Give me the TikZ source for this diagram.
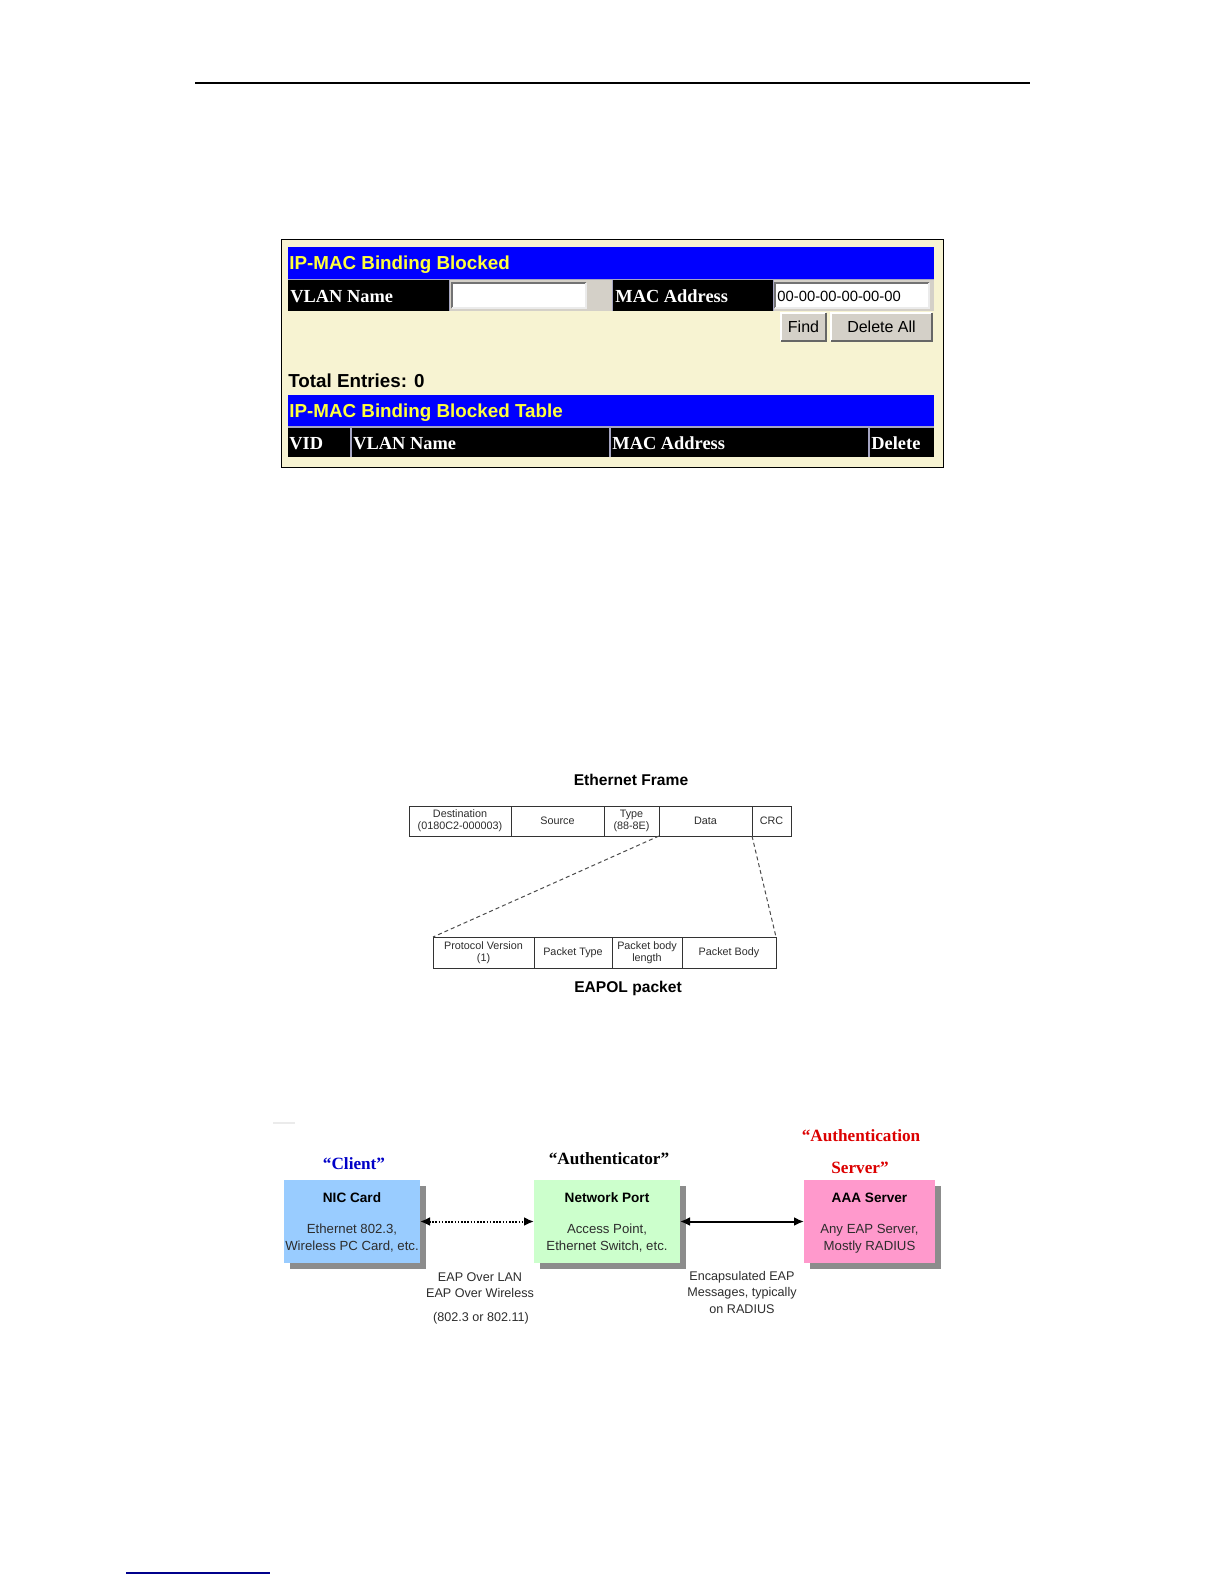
\documentclass[tikz,border=0pt]{standalone}
\usepackage{fontspec}
\setmainfont{Liberation Serif}
\setsansfont{Liberation Sans}
\usetikzlibrary{arrows.meta,shadows}
\definecolor{cream}{RGB}{247,243,210}
\definecolor{hdrblue}{RGB}{0,0,255}
\definecolor{hdryellow}{RGB}{255,255,60}
\definecolor{btngray}{RGB}{212,208,200}
\definecolor{sepgray}{RGB}{165,165,195}
\definecolor{cliblue}{RGB}{153,204,255}
\definecolor{npgreen}{RGB}{204,255,204}
\definecolor{aaapink}{RGB}{255,153,204}
\definecolor{rolered}{RGB}{220,0,0}
\definecolor{roleblue}{RGB}{0,0,200}
\definecolor{linkblue}{RGB}{0,0,140}
\definecolor{shadowgray}{RGB}{140,140,140}
\definecolor{boxtext}{RGB}{45,45,45}
\tikzset{
  uihead/.style={anchor=base west, inner sep=0pt, text=hdryellow, font=\sffamily\bfseries\fontsize{9.4}{11}\selectfont},
  uicell/.style={anchor=base west, inner sep=0pt, text=white, font=\rmfamily\bfseries\fontsize{9.2}{11}\selectfont},
  uiinput/.style={anchor=base west, inner sep=0pt, font=\sffamily\fontsize{7.4}{9}\selectfont},
  uibtn/.style={anchor=base, inner sep=0pt, font=\sffamily\fontsize{8}{10}\selectfont},
  uitotal/.style={anchor=base west, inner sep=0pt, font=\sffamily\bfseries\fontsize{9.4}{11}\selectfont},
  frbox/.style={draw=black!80, line width=0.5pt, inner sep=0pt, outer sep=0pt, minimum height=15pt, align=center, text=boxtext, font=\sffamily\fontsize{5.4}{6}\selectfont},
  frtitle/.style={inner sep=0pt, font=\sffamily\bfseries\fontsize{7.8}{9}\selectfont},
  rolebox/.style={inner sep=0pt, outer sep=0pt, minimum height=41.5pt, drop shadow={shadow xshift=3pt, shadow yshift=-3pt, fill=shadowgray, opacity=1}},
  boxtitle/.style={inner sep=0pt, font=\sffamily\bfseries\fontsize{6.8}{8}\selectfont},
  boxsub/.style={inner sep=0pt, text=boxtext, font=\sffamily\fontsize{6.6}{8}\selectfont},
  roletitle/.style={inner sep=0pt, font=\rmfamily\bfseries\fontsize{8.6}{10}\selectfont},
  linklabel/.style={inner sep=0pt, text=boxtext, font=\sffamily\fontsize{6.3}{8}\selectfont},
  link/.style={line width=1pt, {Latex[length=5pt,width=4.5pt]}-{Latex[length=5pt,width=4.5pt]}},
  fieldlink/.style={draw=black!70, line width=0.5pt, dash pattern=on 2pt off 1.5pt}
}
\begin{document}
\begin{tikzpicture}[x=0.5pt,y=-0.5pt]
\useasboundingbox (0,0) rectangle (1224,1584);
\fill[white] (0,0) rectangle (1224,1584);

% page rules
\draw[black, line width=0.75pt] (195,83) -- (1030,83);
\draw[linkblue, line width=0.75pt] (126,1573) -- (270,1573);

% ---------- screenshot panel ----------
\path[fill=cream, draw=black, line width=0.45pt] (281,239) rectangle (943,467);
\fill[sepgray] (288,247) rectangle (934,311);
\fill[hdrblue] (288,247) rectangle (934,278.5);
\fill[black] (288,280) rectangle (449,311);
\fill[btngray] (450,280) rectangle (612,311);
\fill[black] (613,280) rectangle (773,311);
\fill[btngray] (774,280) rectangle (934,311);
% input 1
\fill[white] (452,283) rectangle (586,308);
\draw[black!55, line width=0.8pt] (452,308) -- (452,283) -- (586,283);
\draw[black!8, line width=0.8pt] (586,283) -- (586,308) -- (452,308);
% input 2
\fill[white] (775,283) rectangle (929,308);
\draw[black!55, line width=0.8pt] (775,308) -- (775,283) -- (929,283);
\draw[black!8, line width=0.8pt] (929,283) -- (929,308) -- (775,308);
% buttons
\fill[btngray] (781,313) rectangle (826,341);
\draw[white, line width=0.6pt] (781,341) -- (781,313) -- (826,313);
\draw[black!60, line width=0.6pt] (826,313) -- (826,341) -- (781,341);
\fill[btngray] (831,313) rectangle (932,341);
\draw[white, line width=0.6pt] (831,341) -- (831,313) -- (932,313);
\draw[black!60, line width=0.6pt] (932,313) -- (932,341) -- (831,341);
% table header
\fill[sepgray] (288,395) rectangle (934,457);
\fill[hdrblue] (288,395) rectangle (934,426);
\fill[black] (288,427.5) rectangle (350,457);
\fill[black] (352,427.5) rectangle (609,457);
\fill[black] (611,427.5) rectangle (868,457);
\fill[black] (870,427.5) rectangle (934,457);

\node[uihead] (t1) at (289,269) {IP-MAC Binding Blocked};
\node[uicell] (c1) at (290,302) {VLAN Name};
\node[uicell] (c2) at (615,302) {MAC Address};
\node[uiinput] (i2) at (777,301) {00-00-00-00-00-00};
\node[uibtn] (bfind) at (803.5,332.5) {Find};
\node[uibtn] (bdel) at (881.5,332.5) {Delete All};
\node[uitotal] (tot) at (288,387) {Total Entries: 0};
\node[uihead] (t2) at (289,417) {IP-MAC Binding Blocked Table};
\node[uicell] (h1) at (289,449) {VID};
\node[uicell] (h2) at (353,449) {VLAN Name};
\node[uicell] (h3) at (612,449) {MAC Address};
\node[uicell] (h4) at (871,449) {Delete};

% ---------- Ethernet frame ----------
\node[frtitle] (eft) at (631,780) {Ethernet Frame};
\node[frbox, minimum width=51pt] (dst) at (460,821) {Destination\\(0180C2-000003)};
\node[frbox, minimum width=46.5pt] (src) at (557.5,821) {Source};
\node[frbox, minimum width=27.5pt] (typ) at (631.5,821) {Type\\(88-8E)};
\node[frbox, minimum width=46.5pt] (dat) at (705.5,821) {Data};
\node[frbox, minimum width=19.5pt] (crc) at (771.5,821) {CRC};
\node[frbox, minimum width=50.5pt, minimum height=15.5pt] (pv) at (483.5,952.5) {Protocol Version\\(1)};
\node[frbox, minimum width=39pt, minimum height=15.5pt] (ptp) at (573,952.5) {Packet Type};
\node[frbox, minimum width=35pt, minimum height=15.5pt] (pbl) at (647,952.5) {Packet body\\length};
\node[frbox, minimum width=47pt, minimum height=15.5pt] (pbd) at (729,952.5) {Packet Body};
\node[frtitle] (ept) at (628,988) {EAPOL packet};
\draw[fieldlink] (dat.south west) -- (pv.north west);
\draw[fieldlink] (dat.south east) -- (pbd.north east);

% ---------- 802.1X roles ----------
\draw[black!8, line width=1pt] (273,1123) -- (295,1123);
\node[rolebox, fill=cliblue, minimum width=68pt] (client) at (352,1221.5) {};
\node[rolebox, fill=npgreen, minimum width=73pt] (np) at (607,1221.5) {};
\node[rolebox, fill=aaapink, minimum width=65.5pt] (aaa) at (869.5,1221.5) {};

\node[boxtitle] (clit) at (352,1198) {NIC Card};
\node[boxsub] (clis1) at (352,1230) {Ethernet 802.3,};
\node[boxsub] (clis2) at (352,1247) {Wireless PC Card, etc.};
\node[boxtitle] (npt) at (607,1198) {Network Port};
\node[boxsub] (nps1) at (607,1230) {Access Point,};
\node[boxsub] (nps2) at (607,1247) {Ethernet Switch, etc.};
\node[boxtitle] (aaat) at (869.5,1198) {AAA Server};
\node[boxsub] (aaas1) at (869.5,1230) {Any EAP Server,};
\node[boxsub] (aaas2) at (869.5,1247) {Mostly RADIUS};

\node[roletitle, text=roleblue] (rcl) at (354,1164) {“Client”};
\node[roletitle] (rau) at (609,1159) {“Authenticator”};
\node[roletitle, text=rolered] (ras1) at (861,1136) {“Authentication};
\node[roletitle, text=rolered] (ras2) at (860,1168) {Server”};

\draw[link, dash pattern=on 0.8pt off 0.8pt] (client.east) -- (np.west);
\draw[link] (np.east) -- (aaa.west);

\node[linklabel] (l1a) at (480,1277) {EAP Over LAN};
\node[linklabel] (l1b) at (480,1293) {EAP Over Wireless};
\node[linklabel] (l1c) at (481,1318) {(802.3 or 802.11)};
\node[linklabel] (l2a) at (742,1277) {Encapsulated EAP};
\node[linklabel] (l2b) at (742,1293) {Messages, typically};
\node[linklabel] (l2c) at (742,1309) {on RADIUS};
\end{tikzpicture}
\end{document}
